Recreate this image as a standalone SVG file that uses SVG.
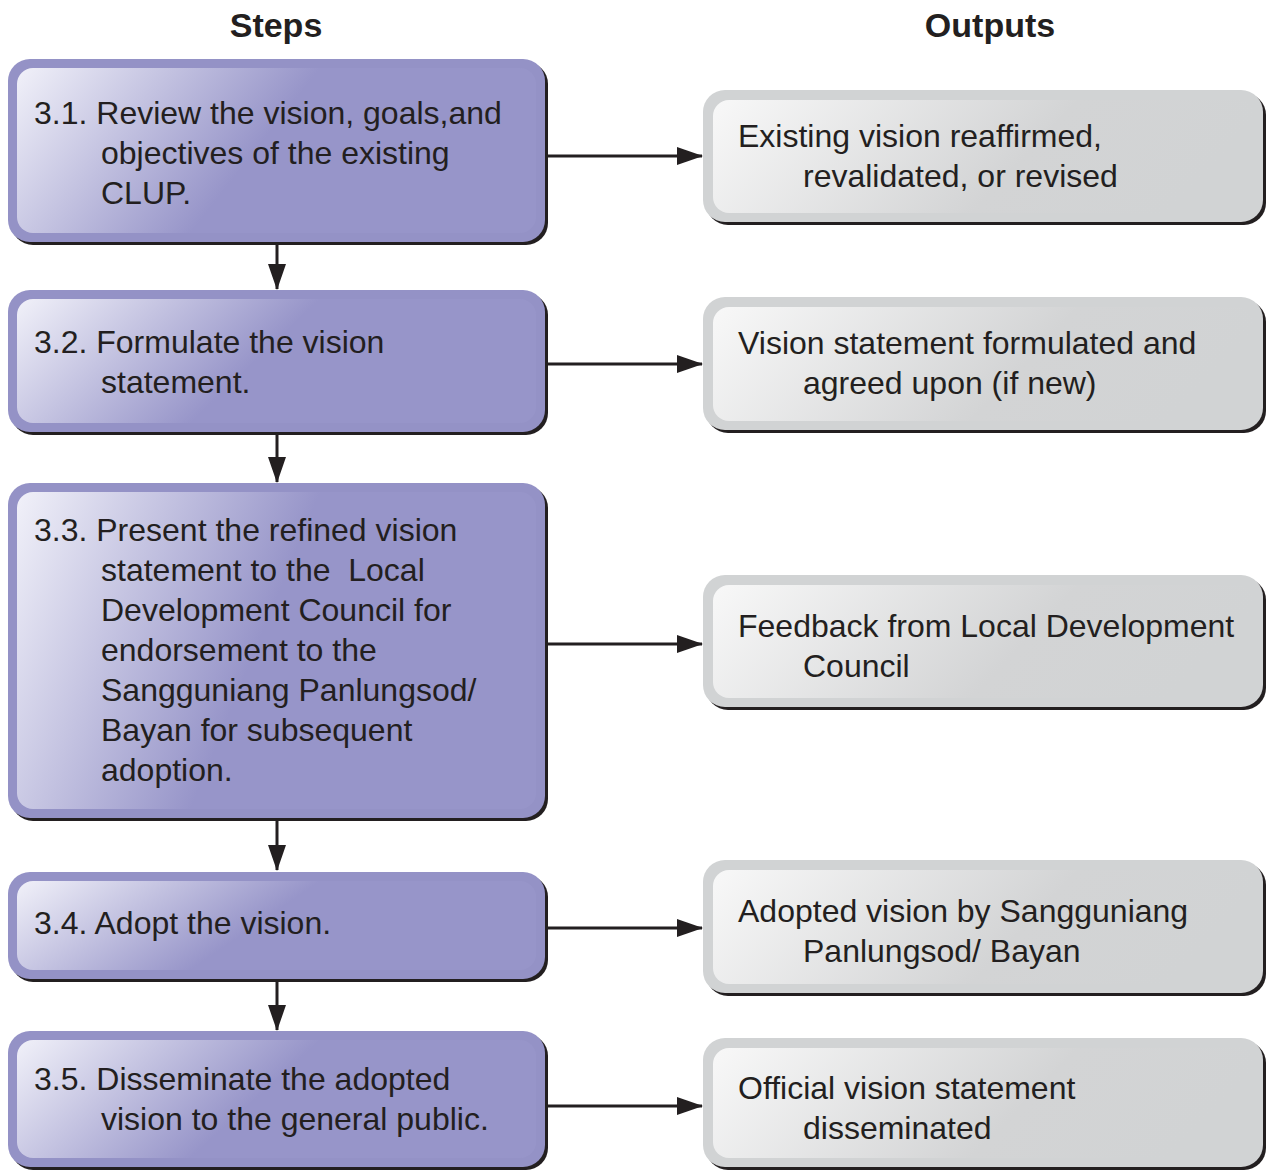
<svg xmlns="http://www.w3.org/2000/svg" width="1266" height="1171" viewBox="0 0 1266 1171">
<style>
text{font-family:"Liberation Sans",Arial,Helvetica,sans-serif;font-size:32px;fill:#231f20}
.hd{font-weight:bold;font-size:34px;text-anchor:middle}
.sh{fill:#231f20}
.so{fill:#9492c6}
.si{fill:url(#gp)}
.oo{fill:#d1d3d4}
.oi{fill:url(#gg)}
.cn{stroke:#231f20;stroke-width:3;fill:none}
</style>
<defs>
<linearGradient id="gp" x1="0" y1="0" x2="1" y2="0.25">
<stop offset="0" stop-color="#f1f1f9"/>
<stop offset="0.55" stop-color="#9795c9"/>
<stop offset="1" stop-color="#9795c9"/>
</linearGradient>
<linearGradient id="gg" x1="0" y1="0" x2="1" y2="0.2">
<stop offset="0" stop-color="#f8f8f8"/>
<stop offset="0.65" stop-color="#d3d4d5"/>
<stop offset="1" stop-color="#d1d3d4"/>
</linearGradient>
<marker id="ah" markerWidth="26" markerHeight="18" refX="25" refY="9" orient="auto" markerUnits="userSpaceOnUse">
<path d="M0,0 L26,9 L0,18 z" fill="#231f20"/>
</marker>
</defs>

<text class="hd" x="276" y="37">Steps</text>
<text class="hd" x="990" y="37">Outputs</text>

<g id="connectors">
<line class="cn" x1="277" y1="244" x2="277" y2="289" marker-end="url(#ah)"/>
<line class="cn" x1="277" y1="434" x2="277" y2="482" marker-end="url(#ah)"/>
<line class="cn" x1="277" y1="820" x2="277" y2="870" marker-end="url(#ah)"/>
<line class="cn" x1="277" y1="981" x2="277" y2="1030" marker-end="url(#ah)"/>
<line class="cn" x1="546" y1="156" x2="702" y2="156" marker-end="url(#ah)"/>
<line class="cn" x1="546" y1="364" x2="702" y2="364" marker-end="url(#ah)"/>
<line class="cn" x1="546" y1="644" x2="702" y2="644" marker-end="url(#ah)"/>
<line class="cn" x1="546" y1="928" x2="702" y2="928" marker-end="url(#ah)"/>
<line class="cn" x1="546" y1="1106" x2="702" y2="1106" marker-end="url(#ah)"/>
</g>

<g id="step31">
<rect class="sh" x="11" y="62" width="537" height="183" rx="22"/>
<rect class="so" x="8" y="59" width="537" height="183" rx="22"/>
<rect class="si" x="17" y="68" width="519" height="165" rx="16"/>
<text x="34" y="124">3.1. Review the vision, goals,and</text>
<text x="101" y="164">objectives of the existing</text>
<text x="101" y="204">CLUP.</text>
</g>

<g id="step32">
<rect class="sh" x="11" y="293" width="537" height="142" rx="22"/>
<rect class="so" x="8" y="290" width="537" height="142" rx="22"/>
<rect class="si" x="17" y="299" width="519" height="124" rx="16"/>
<text x="34" y="353">3.2. Formulate the vision</text>
<text x="101" y="393">statement.</text>
</g>

<g id="step33">
<rect class="sh" x="11" y="486" width="537" height="335" rx="22"/>
<rect class="so" x="8" y="483" width="537" height="335" rx="22"/>
<rect class="si" x="17" y="492" width="519" height="317" rx="16"/>
<text x="34" y="541">3.3. Present the refined vision</text>
<text x="101" y="581" xml:space="preserve" style="white-space:pre">statement to the  Local</text>
<text x="101" y="621">Development Council for</text>
<text x="101" y="661">endorsement to the</text>
<text x="101" y="701">Sangguniang Panlungsod/</text>
<text x="101" y="741">Bayan for subsequent</text>
<text x="101" y="781">adoption.</text>
</g>

<g id="step34">
<rect class="sh" x="11" y="875" width="537" height="107" rx="22"/>
<rect class="so" x="8" y="872" width="537" height="107" rx="22"/>
<rect class="si" x="17" y="881" width="519" height="89" rx="16"/>
<text x="34" y="934">3.4. Adopt the vision.</text>
</g>

<g id="step35">
<rect class="sh" x="11" y="1034" width="537" height="136" rx="22"/>
<rect class="so" x="8" y="1031" width="537" height="136" rx="22"/>
<rect class="si" x="17" y="1040" width="519" height="118" rx="16"/>
<text x="34" y="1090">3.5. Disseminate the adopted</text>
<text x="101" y="1130">vision to the general public.</text>
</g>

<g id="out1">
<rect class="sh" x="706" y="93" width="560" height="132" rx="22"/>
<rect class="oo" x="703" y="90" width="560" height="132" rx="22"/>
<rect class="oi" x="713" y="100" width="541" height="113" rx="16"/>
<text x="738" y="147">Existing vision reaffirmed,</text>
<text x="803" y="187">revalidated, or revised</text>
</g>

<g id="out2">
<rect class="sh" x="706" y="300" width="560" height="133" rx="22"/>
<rect class="oo" x="703" y="297" width="560" height="133" rx="22"/>
<rect class="oi" x="713" y="307" width="541" height="114" rx="16"/>
<text x="738" y="354">Vision statement formulated and</text>
<text x="803" y="394">agreed upon (if new)</text>
</g>

<g id="out3">
<rect class="sh" x="706" y="578" width="560" height="132" rx="22"/>
<rect class="oo" x="703" y="575" width="560" height="132" rx="22"/>
<rect class="oi" x="713" y="585" width="541" height="113" rx="16"/>
<text x="738" y="637">Feedback from Local Development</text>
<text x="803" y="677">Council</text>
</g>

<g id="out4">
<rect class="sh" x="706" y="863" width="560" height="133" rx="22"/>
<rect class="oo" x="703" y="860" width="560" height="133" rx="22"/>
<rect class="oi" x="713" y="870" width="541" height="114" rx="16"/>
<text x="738" y="922">Adopted vision by Sangguniang</text>
<text x="803" y="962">Panlungsod/ Bayan</text>
</g>

<g id="out5">
<rect class="sh" x="706" y="1041" width="560" height="129" rx="22"/>
<rect class="oo" x="703" y="1038" width="560" height="129" rx="22"/>
<rect class="oi" x="713" y="1048" width="541" height="110" rx="16"/>
<text x="738" y="1099">Official vision statement</text>
<text x="803" y="1139">disseminated</text>
</g>
</svg>
